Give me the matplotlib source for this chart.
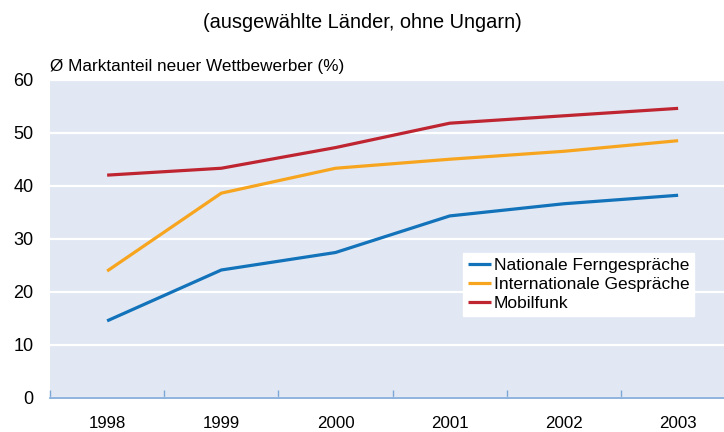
import matplotlib
matplotlib.use("Agg")
import matplotlib.pyplot as plt

plt.rcParams['font.family'] = ['Liberation Sans', 'DejaVu Sans']

years = ["1998", "1999", "2000", "2001", "2002", "2003"]
national = [14.5, 24.1, 27.4, 34.3, 36.6, 38.2]
international = [23.9, 38.6, 43.3, 45.0, 46.5, 48.5]
mobil = [42.0, 43.3, 47.2, 51.8, 53.2, 54.6]
yticks = [0, 10, 20, 30, 40, 50, 60]

fig = plt.figure(figsize=(7.24, 4.32), dpi=100)
ax = fig.add_axes([0.0691, 0.0794, 0.9464, 0.736])
ax.set_facecolor('#E1E8F3')

x = list(range(len(years)))
ax.plot(x, national, color='#1272BA', lw=2.3, label="Nationale Ferngespräche", solid_capstyle='butt')
ax.plot(x, international, color='#F7A51F', lw=2.3, label="Internationale Gespräche", solid_capstyle='butt')
ax.plot(x, mobil, color='#BE2531', lw=2.3, label="Mobilfunk", solid_capstyle='butt')

ax.set_xlim(-0.5, len(years) - 0.5)
ax.set_ylim(0, 60)
ax.set_yticks(yticks)
ax.yaxis.grid(True, color='white', lw=1.6)
ax.set_axisbelow(True)
ax.tick_params(axis='y', length=0, pad=12, labelsize=13)

# x-Achse: Beschriftung mittig, Striche an den Grenzen
ax.set_xticks(x)
ax.set_xticklabels(years)
ax.tick_params(axis='x', which='major', length=0, pad=13, labelsize=12.2)
ax.set_xticks([i - 0.5 for i in range(len(years) + 1)], minor=True)
ax.tick_params(axis='x', which='minor', direction='in', length=6, color='#7BA7D8', width=1)

for s in ['left', 'right', 'top']:
    ax.spines[s].set_visible(False)
ax.spines['bottom'].set_color('#7BA7D8')
ax.spines['bottom'].set_linewidth(1.2)

leg = ax.legend(loc='upper left', bbox_to_anchor=(0.603, 0.455), frameon=True, fancybox=False,
                edgecolor='white', facecolor='white', framealpha=1, fontsize=12.5,
                handlelength=1.3, handletextpad=0.15, labelspacing=0.2, borderpad=0.3,
                borderaxespad=0)

fig.text(0.5, 0.948, "(ausgewählte Länder, ohne Ungarn)", ha='center', va='center', fontsize=14.4)
fig.text(0.069, 0.847, "Ø Marktanteil neuer Wettbewerber (%)", ha='left', va='center', fontsize=12.3)

fig.savefig("out.png", dpi=100)
